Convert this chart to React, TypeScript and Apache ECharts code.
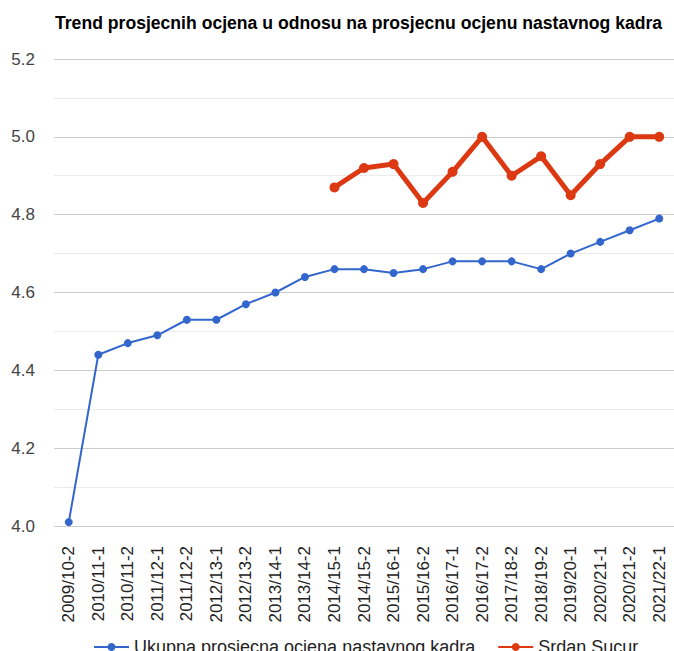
import React, { useEffect, useRef } from "react";
import * as echarts from "echarts";

const categories = [
  "2009/10-2", "2010/11-1", "2010/11-2", "2011/12-1", "2011/12-2", "2012/13-1", "2012/13-2",
  "2013/14-1", "2013/14-2", "2014/15-1", "2014/15-2", "2015/16-1", "2015/16-2", "2016/17-1",
  "2016/17-2", "2017/18-2", "2018/19-2", "2019/20-1", "2020/21-1", "2020/21-2", "2021/22-1",
];

const ukupna = [
  4.01, 4.44, 4.47, 4.49, 4.53, 4.53, 4.57, 4.6, 4.64, 4.66, 4.66, 4.65, 4.66, 4.68, 4.68,
  4.68, 4.66, 4.7, 4.73, 4.76, 4.79,
];

const srdan = [
  null, null, null, null, null, null, null, null, null,
  4.87, 4.92, 4.93, 4.83, 4.91, 5.0, 4.9, 4.95, 4.85, 4.93, 5.0, 5.0,
];

const seriesNames = ["Ukupna prosjecna ocjena nastavnog kadra", "Srdan Sucur"];
const titleText = "Trend prosjecnih ocjena u odnosu na prosjecnu ocjenu nastavnog kadra";

export default function App() {
  const ref = useRef<HTMLDivElement>(null);
  useEffect(() => {
    if (!ref.current) return;
    const chart = echarts.init(ref.current, null, { renderer: "svg" });
    const font = "Liberation Sans, Arial, sans-serif";
    chart.setOption({
      animation: false,
      textStyle: { fontFamily: font },
      title: {
        text: titleText,
        left: 50,
        top: 9,
        textStyle: { fontSize: 17.6, fontWeight: "bold", color: "#000", fontFamily: font },
      },
      legend: {
        top: 633,
        left: 88,
        itemWidth: 35,
        itemHeight: 10,
        itemGap: 22,
        textStyle: { fontSize: 18, color: "#222", fontFamily: font },
        data: seriesNames,
      },
      grid: { left: 54, right: 0, top: 59, bottom: 125, containLabel: false },
      xAxis: {
        type: "category",
        data: categories,
        boundaryGap: true,
        axisLine: { show: false },
        axisTick: { show: false },
        axisLabel: {
          rotate: 90,
          interval: 0,
          margin: 20,
          fontSize: 17,
          color: "#222",
          fontFamily: font,
        },
      },
      yAxis: {
        type: "value",
        min: 4.0,
        max: 5.2,
        interval: 0.2,
        axisLine: { show: false },
        axisTick: { show: false },
        axisLabel: {
          margin: 19,
          fontSize: 17,
          color: "#444",
          fontFamily: font,
          formatter: (v: number) => v.toFixed(1),
        },
        splitLine: { lineStyle: { color: "#cccccc", width: 1 } },
        minorTick: { show: false, splitNumber: 2 },
        minorSplitLine: { show: true, lineStyle: { color: "#ebebeb", width: 1 } },
      },
      series: [
        {
          name: seriesNames[0],
          type: "line",
          data: ukupna,
          color: "#3366cc",
          lineStyle: { width: 2, color: "#3366cc" },
          symbol: "circle",
          symbolSize: 8,
          itemStyle: { color: "#3366cc" },
        },
        {
          name: seriesNames[1],
          type: "line",
          data: srdan,
          color: "#dc3912",
          lineStyle: { width: 5, color: "#dc3912" },
          symbol: "circle",
          symbolSize: 10,
          itemStyle: { color: "#dc3912" },
        },
      ],
    });
    return () => chart.dispose();
  }, []);
  return (
    <div
      ref={ref}
      style={{ position: "absolute", left: 0, top: 0, width: 674, height: 651 }}
    />
  );
}
